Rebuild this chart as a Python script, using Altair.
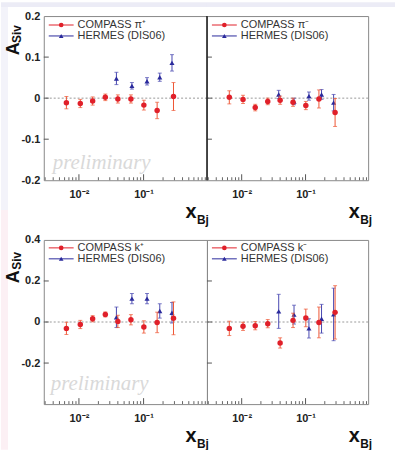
import altair as alt
import pandas as pd

# ---------------- data ----------------
compass_x = [0.0064, 0.0105, 0.0163, 0.0256, 0.040, 0.0637, 0.101, 0.162, 0.29]
hermes_x = [0.038, 0.066, 0.113, 0.178, 0.275]

compass_pip_y = [-0.011, -0.013, -0.007, 0.002, -0.002, -0.002, -0.017, -0.030, 0.004]
compass_pip_err = [0.015, 0.010, 0.010, 0.008, 0.010, 0.010, 0.012, 0.020, 0.034]
hermes_pip_y = [0.048, 0.030, 0.041, 0.051, 0.086]
hermes_pip_err = [0.015, 0.008, 0.009, 0.010, 0.020]

compass_pim_y = [0.002, -0.003, -0.023, -0.008, -0.005, -0.010, -0.018, -0.002, -0.035]
compass_pim_err = [0.016, 0.010, 0.008, 0.008, 0.010, 0.010, 0.010, 0.022, 0.034]
hermes_pim_y = [0.009, -0.008, 0.005, 0.009, -0.011]
hermes_pim_err = [0.010, 0.008, 0.010, 0.012, 0.020]

compass_kp_y = [-0.031, -0.012, 0.016, 0.037, 0.003, 0.011, -0.024, -0.002, 0.018]
compass_kp_err = [0.030, 0.020, 0.015, 0.012, 0.030, 0.025, 0.030, 0.050, 0.080]
hermes_kp_y = [0.023, 0.114, 0.114, 0.054, 0.045]
hermes_kp_err = [0.050, 0.025, 0.025, 0.035, 0.050]

compass_km_y = [-0.031, -0.021, -0.018, -0.008, -0.102, 0.008, 0.020, -0.002, 0.047]
compass_km_err = [0.035, 0.020, 0.020, 0.020, 0.025, 0.035, 0.043, 0.075, 0.130]
hermes_km_y = [0.052, 0.036, -0.031, 0.016, 0.037]
hermes_km_err = [0.083, 0.046, 0.047, 0.070, 0.128]

panel_labels = ["COMPASS π⁺", "COMPASS π⁻", "COMPASS k⁺", "COMPASS k⁻"]
hermes_label = "HERMES (DIS06)"
watermark = "preliminary"

x_domain = [0.00286, 0.955]
row_domains = [[-0.2, 0.2], [-0.4, 0.4]]
row_label_values = [[-0.2, -0.1, 0, 0.1, 0.2], [-0.2, 0, 0.2, 0.4]]
row_tick_values = [[-0.1, 0, 0.1], [-0.2, 0, 0.2]]
major_x = [0.01, 0.1]
minor_x = [0.003, 0.004, 0.005, 0.006, 0.007, 0.008, 0.009,
           0.02, 0.03, 0.04, 0.05, 0.06, 0.07, 0.08, 0.09,
           0.2, 0.3, 0.4, 0.5, 0.6, 0.7, 0.8, 0.9]

# ---------------- style ----------------
H = 165
WIDTHS = [164, 162]
PAD_L, PAD_T, PAD_R, PAD_B = 43, 14, 27, 46
ROW_GAP = 60
FONT = "Liberation Sans"
RED = "#e0202a"
RED_ERR = "#ee5533"
BLUE = "#2a2a9c"
BLUE_ERR = "#4848b0"
TEXT = "#333333"


def one(v):
    return pd.DataFrame({"t": [v]})


def anchor(x, y):
    # invisible rule that fixes the layout bounds of the page
    return alt.Chart(one(0)).mark_rule(opacity=0, strokeWidth=0.1).encode(
        x=alt.value(x), x2=alt.value(x), y=alt.value(y), y2=alt.value(y))


def strip(x, x2, y, y2, color):
    return alt.Chart(one(0)).mark_rect(color=color, opacity=1).encode(
        x=alt.value(x), x2=alt.value(x2), y=alt.value(y), y2=alt.value(y2))


def make_panel(idx, cy, ce, hy, he):
    row, col = divmod(idx, 2)
    W = WIDTHS[col]
    xs = alt.Scale(type="log", domain=x_domain, nice=False)
    ys = alt.Scale(domain=row_domains[row], nice=False, zero=False)
    xaxis = alt.Axis(values=major_x,
                     labelExpr="datum.value < 0.05 ? '10⁻²' : '10⁻¹'",
                     ticks=False, domain=False, grid=False, title=None,
                     labelFont=FONT, labelFontWeight="bold", labelFontSize=11,
                     labelColor="#222", labelPadding=8, labelFlush=False)
    if col == 0:
        yaxis = alt.Axis(values=row_label_values[row],
                         labelExpr="replace(format(datum.value, '~g'), '−', '-')",
                         ticks=False, domain=False, grid=False, title=None,
                         labelFont=FONT, labelFontWeight="bold", labelFontSize=11,
                         labelColor="#222", labelPadding=4, labelFlush=False)
    else:
        yaxis = None

    def X(f):
        return alt.X(f, type="quantitative", scale=xs, axis=xaxis)

    def Y(f):
        return alt.Y(f, type="quantitative", scale=ys, axis=yaxis)

    cdf = pd.DataFrame({"x": compass_x, "y": cy,
                        "lo": [a - b for a, b in zip(cy, ce)],
                        "hi": [a + b for a, b in zip(cy, ce)]})
    hdf = pd.DataFrame({"x": hermes_x, "y": hy,
                        "lo": [a - b for a, b in zip(hy, he)],
                        "hi": [a + b for a, b in zip(hy, he)]})

    layers = []
    # page background strips (outside the frames)
    if row == 0:
        layers.append(strip(-PAD_L if col == 0 else 0, W + (PAD_R if col == 1 else 0),
                            -PAD_T, -PAD_T + 5, "#ececf6"))
    if col == 0:
        if row == 0:
            layers.append(strip(-PAD_L, -PAD_L + 7, -PAD_T + 5, H + ROW_GAP / 2, "#f3f3fa"))
        else:
            layers.append(strip(-PAD_L, -PAD_L + 7, -ROW_GAP / 2, H + PAD_B, "#fcf0f4"))
    # zero line
    layers.append(alt.Chart(pd.DataFrame({"v": [0]})).mark_rule(
        color="#999", strokeDash=[2, 2], strokeWidth=1).encode(y=Y("v")))
    # inside ticks on x
    layers.append(alt.Chart(pd.DataFrame({"v": major_x})).mark_rule(
        color="#555", strokeWidth=1).encode(x=X("v"), y=alt.value(H), y2=alt.value(H - 6)))
    layers.append(alt.Chart(pd.DataFrame({"v": minor_x})).mark_rule(
        color="#666", strokeWidth=1).encode(x=X("v"), y=alt.value(H), y2=alt.value(H - 3)))
    # inside ticks on y (left frame)
    layers.append(alt.Chart(pd.DataFrame({"v": row_tick_values[row]})).mark_rule(
        color="#555", strokeWidth=1).encode(y=Y("v"), x=alt.value(0), x2=alt.value(5)))

    for df, ec, mc, shape, size in [(hdf, BLUE_ERR, BLUE, "triangle-up", 26),
                                    (cdf, RED_ERR, RED, "circle", 30)]:
        layers.append(alt.Chart(df).mark_rule(color=ec, strokeWidth=1).encode(
            x=X("x"), y=Y("lo"), y2="hi"))
        for end in ["lo", "hi"]:
            layers.append(alt.Chart(df).mark_tick(
                color=ec, orient="horizontal", size=4, thickness=1).encode(
                x=X("x"), y=Y(end)))
        layers.append(alt.Chart(df).mark_point(
            filled=True, shape=shape, size=size, color=mc, opacity=1).encode(
            x=X("x"), y=Y("y")))

    # legend
    ly = [9, 20] if row == 0 else [8, 19]
    for (yy, c, shape, txt) in [(ly[0], RED, "circle", panel_labels[idx]),
                                (ly[1], BLUE, "triangle-up", hermes_label)]:
        layers.append(alt.Chart(one(0)).mark_rule(color=c, strokeWidth=1).encode(
            x=alt.value(5), x2=alt.value(30), y=alt.value(yy)))
        layers.append(alt.Chart(one(0)).mark_point(
            filled=True, shape=shape, size=22, color=c, opacity=1).encode(
            x=alt.value(17.5), y=alt.value(yy)))
        layers.append(alt.Chart(one(txt)).mark_text(
            font=FONT, fontSize=11, color=TEXT, align="left", baseline="middle").encode(
            x=alt.value(34), y=alt.value(yy), text="t:N"))

    # x title
    layers.append(alt.Chart(one("x")).mark_text(
        font=FONT, fontSize=20, fontWeight="bold", color="#111", align="center",
        baseline="alphabetic").encode(x=alt.value(148), y=alt.value(H + 38), text="t:N"))
    layers.append(alt.Chart(one("Bj")).mark_text(
        font=FONT, fontSize=12, fontWeight="bold", color="#111", align="left",
        baseline="alphabetic").encode(x=alt.value(154), y=alt.value(H + 44), text="t:N"))

    if col == 0:
        ay, sy = (33, 18) if row == 0 else (37, 21)
        layers.append(alt.Chart(one("A")).mark_text(
            font=FONT, fontSize=18, fontWeight="bold", color="#111", angle=270,
            align="center", baseline="alphabetic").encode(
            x=alt.value(-25), y=alt.value(ay), text="t:N"))
        layers.append(alt.Chart(one("Siv")).mark_text(
            font=FONT, fontSize=12, fontWeight="bold", color="#111", angle=270,
            align="center", baseline="alphabetic").encode(
            x=alt.value(-23), y=alt.value(sy), text="t:N"))
        layers.append(alt.Chart(one(watermark)).mark_text(
            font="Liberation Serif", fontSize=21, fontStyle="italic", color="#d9d9d9",
            align="left", baseline="alphabetic").encode(
            x=alt.value(9 if row == 0 else 7), y=alt.value(154 if row == 0 else 151),
            text="t:N"))
    elif row == 0:
        layers.append(alt.Chart(one(0)).mark_rule(color="#222", strokeWidth=1.5).encode(
            x=alt.value(0), y=alt.value(0), y2=alt.value(H)))

    # page-bound anchors
    if row == 0 and col == 0:
        layers.append(anchor(-PAD_L, -PAD_T))
    if row == 1 and col == 1:
        layers.append(anchor(W + PAD_R, H + PAD_B))

    return alt.layer(*layers).properties(width=W, height=H)


p1 = make_panel(0, compass_pip_y, compass_pip_err, hermes_pip_y, hermes_pip_err)
p2 = make_panel(1, compass_pim_y, compass_pim_err, hermes_pim_y, hermes_pim_err)
p3 = make_panel(2, compass_kp_y, compass_kp_err, hermes_kp_y, hermes_kp_err)
p4 = make_panel(3, compass_km_y, compass_km_err, hermes_km_y, hermes_km_err)

chart = alt.concat(p1, p2, p3, p4, columns=2, bounds="flush",
                   spacing=alt.RowColnumber(row=ROW_GAP, column=0)).properties(
    autosize=alt.AutoSizeParams(type="pad"),
    padding=0,
    background="white",
).configure_view(stroke="#888888", strokeWidth=1)

chart.save("out.html", embed_options={"renderer": "svg", "actions": False})
